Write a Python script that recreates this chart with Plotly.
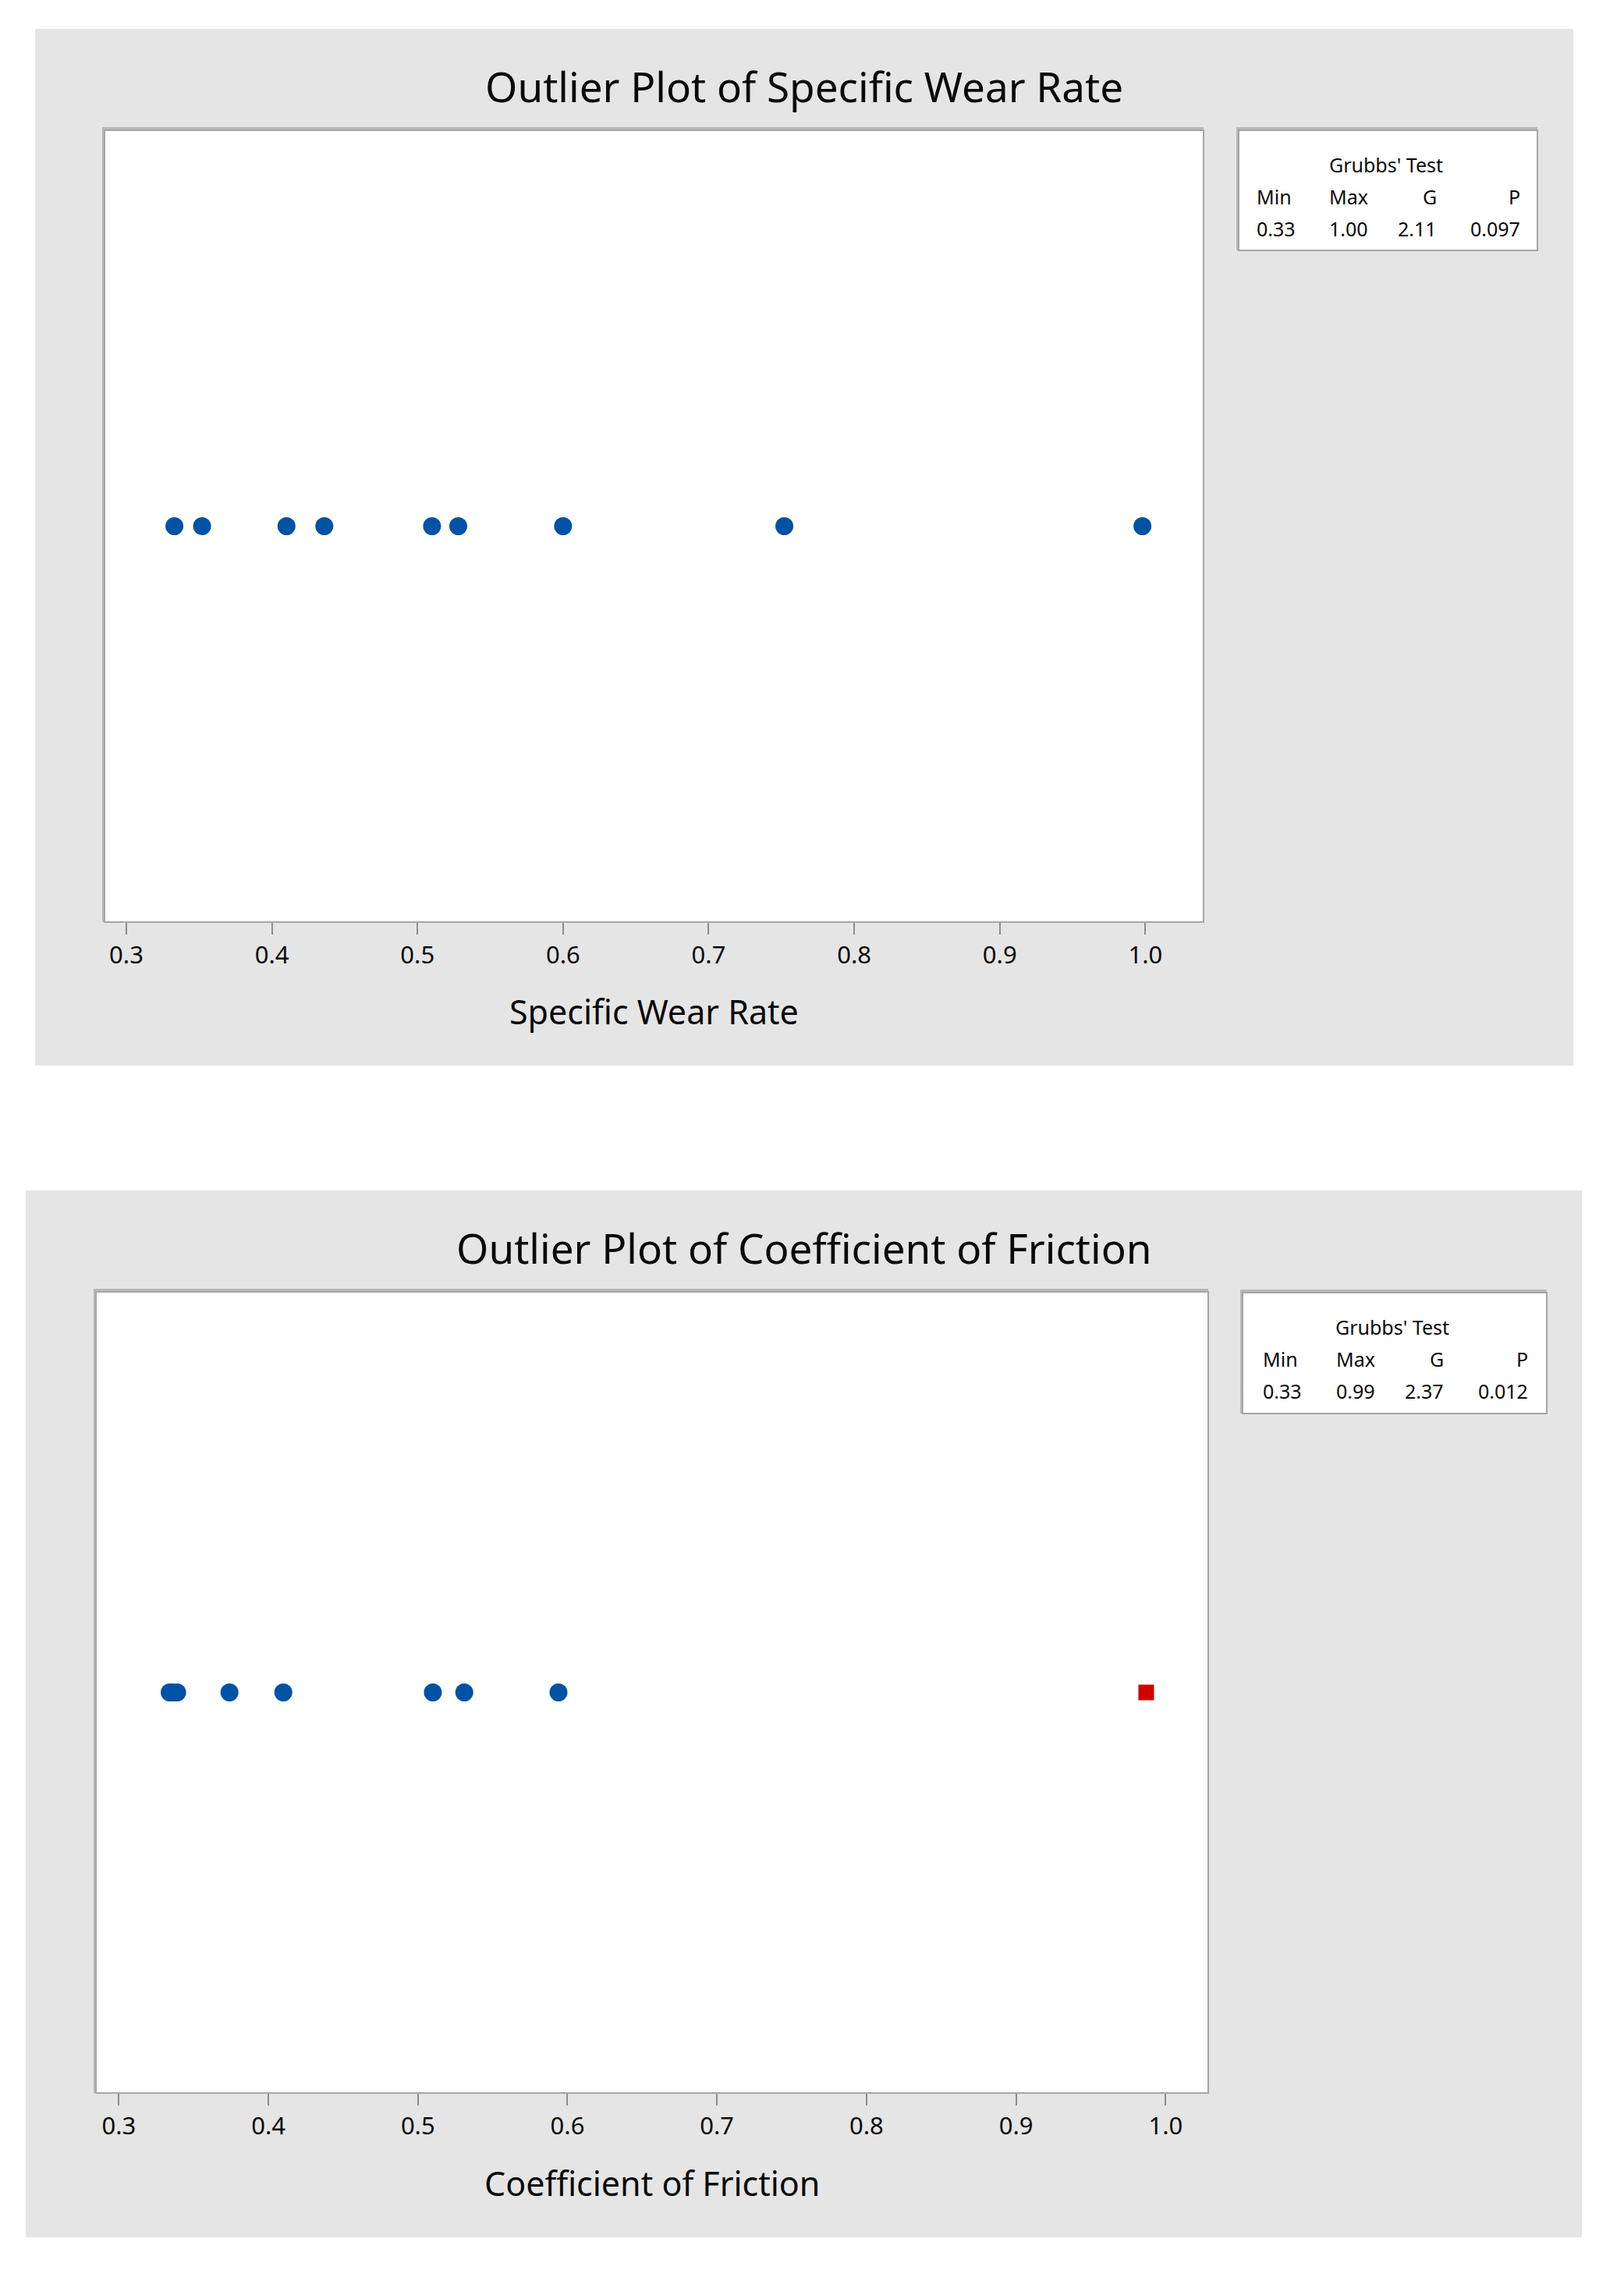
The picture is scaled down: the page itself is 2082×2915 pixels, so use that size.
import plotly.graph_objects as go

W, H = 2082, 2915
PAGE_PAD = 8  # default body margin of the written html page
FW, FH = W - 2 * PAGE_PAD, H - 2 * PAGE_PAD

# data
wear_rate = [0.333, 0.352, 0.410, 0.436, 0.510, 0.528, 0.600, 0.752, 0.998]
friction = [0.334, 0.336, 0.339, 0.374, 0.410, 0.510, 0.531, 0.594]
friction_outlier = [0.987]
tick_vals = [0.3, 0.4, 0.5, 0.6, 0.7, 0.8, 0.9, 1.0]
tick_text = ["0.3", "0.4", "0.5", "0.6", "0.7", "0.8", "0.9", "1.0"]
grubbs_head = ["Min", "Max", "G", "P"]
grubbs_wear = ["0.33", "1.00", "2.11", "0.097"]
grubbs_friction = ["0.33", "0.99", "2.37", "0.012"]

FONT = "Noto Sans"
BLUE = "#0052A5"
RED = "#D20000"
GRAY_BG = "#E5E5E5"
BORDER = "#A6A6A6"
TXT = "#0A0A0A"


def px(x):
    return (x - PAGE_PAD) / FW


def py(y):
    return 1 - (y - PAGE_PAD) / FH


fig = go.Figure()

fig.add_trace(go.Scatter(x=wear_rate, y=[0] * len(wear_rate), mode="markers",
                         marker=dict(color=BLUE, size=23, symbol="circle"),
                         xaxis="x", yaxis="y", showlegend=False))
fig.add_trace(go.Scatter(x=friction, y=[0] * len(friction), mode="markers",
                         marker=dict(color=BLUE, size=23, symbol="circle"),
                         xaxis="x2", yaxis="y2", showlegend=False))
fig.add_trace(go.Scatter(x=friction_outlier, y=[0], mode="markers",
                         marker=dict(color=RED, size=20, symbol="square"),
                         xaxis="x2", yaxis="y2", showlegend=False))

shapes = []
annotations = []


def label(text, x, y, size, xanchor="center"):
    annotations.append(dict(text=text, xref="paper", yref="paper", x=px(x), y=py(y),
                            xanchor=xanchor, yanchor="middle", showarrow=False,
                            font=dict(size=size, color=TXT, family=FONT)))


# panel layout in pixels: (bg box, plot box, legend box)
panels = [
    dict(bg=(45, 37, 2017, 1366), plot=(134, 167, 1543, 1182),
         legend=(1588, 167, 1971, 321), title="Outlier Plot of Specific Wear Rate",
         title_y=110, xtitle="Specific Wear Rate", xtitle_y=1296,
         cols=(1609, 1702, 1844, 1951), stats=grubbs_wear),
    dict(bg=(33, 1526, 2028, 2868), plot=(123, 1656, 1549, 2683),
         legend=(1593, 1657, 1983, 1812), title="Outlier Plot of Coefficient of Friction",
         title_y=1599, xtitle="Coefficient of Friction", xtitle_y=2798,
         cols=(1617, 1711, 1853, 1961), stats=grubbs_friction),
]

for p in panels:
    x0, y0, x1, y1 = p["bg"]
    shapes.append(dict(type="rect", xref="paper", yref="paper", layer="below",
                       x0=px(x0), x1=px(x1), y0=py(y1), y1=py(y0),
                       fillcolor=GRAY_BG, line=dict(width=0)))
    for (bx0, by0, bx1, by1) in (p["plot"], p["legend"]):
        # soft shadow on top/left, then white box
        shapes.append(dict(type="rect", xref="paper", yref="paper", layer="below",
                           x0=px(bx0 - 3), x1=px(bx1), y0=py(by1), y1=py(by0 - 4),
                           fillcolor="#B8B8B8", line=dict(width=0)))
        shapes.append(dict(type="rect", xref="paper", yref="paper", layer="below",
                           x0=px(bx0), x1=px(bx1), y0=py(by1), y1=py(by0),
                           fillcolor="white", line=dict(color=BORDER, width=2)))
    label(p["title"], (x0 + x1) / 2, p["title_y"], 53)
    px0, _, px1, _ = p["plot"]
    label(p["xtitle"], (px0 + px1) / 2, p["xtitle_y"], 43)
    lx0, ly0, lx1, ly1 = p["legend"]
    label("Grubbs' Test", (lx0 + lx1) / 2 - 3, ly0 + 44, 25)
    for row, texts in ((85, grubbs_head), (126, p["stats"])):
        for i, t in enumerate(texts):
            label(t, p["cols"][i], ly0 + row, 25, "left" if i < 2 else "right")

axis_common = dict(tickvals=tick_vals, ticktext=tick_text, ticks="outside",
                   ticklen=15, tickwidth=2, tickcolor="#8C8C8C", showgrid=False,
                   zeroline=False, showline=False,
                   tickfont=dict(size=31, color=TXT, family=FONT))
yaxis_common = dict(range=[-1, 1], showticklabels=False, showgrid=False,
                    zeroline=False, showline=False, ticks="")

top_plot = panels[0]["plot"]
bot_plot = panels[1]["plot"]

fig.update_layout(
    width=FW, height=FH,
    margin=dict(l=0, r=0, t=0, b=0),
    paper_bgcolor="white",
    plot_bgcolor="rgba(0,0,0,0)",
    xaxis=dict(domain=[px(top_plot[0]), px(top_plot[2])], range=[0.285, 1.040],
               anchor="y", **axis_common),
    yaxis=dict(domain=[py(top_plot[3]), py(top_plot[1])], anchor="x", **yaxis_common),
    xaxis2=dict(domain=[px(bot_plot[0]), px(bot_plot[2])], range=[0.2847, 1.0285],
                anchor="y2", **axis_common),
    yaxis2=dict(domain=[py(bot_plot[3]), py(bot_plot[1])], anchor="x2", **yaxis_common),
    shapes=shapes,
    annotations=annotations,
    font=dict(family=FONT),
)

fig.write_html("out.html")
